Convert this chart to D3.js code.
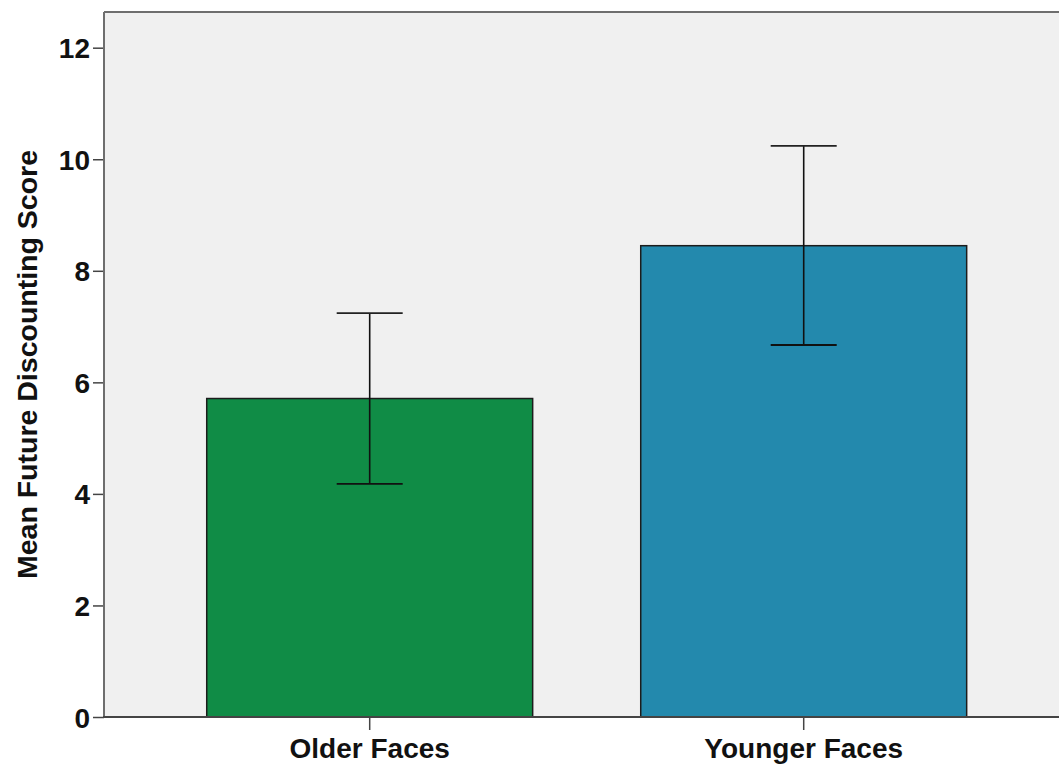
<!DOCTYPE html>
<html>
<head>
<meta charset="utf-8">
<script src="https://cdn.jsdelivr.net/npm/d3@7"></script>
<style>
  html, body { margin: 0; padding: 0; background: #ffffff; }
  svg { display: block; }
  text { font-family: "Liberation Sans", Arial, sans-serif; }
</style>
</head>
<body>
<svg id="chart" width="1059" height="764"></svg>
<script>
const categories = ["Older Faces", "Younger Faces"];
const means = [5.71, 8.45];
const errLow = [4.18, 6.67];
const errHigh = [7.24, 10.24];
const barColors = ["#108c46", "#2389ad"];
const yTicks = [0, 2, 4, 6, 8, 10, 12];
const yTitle = "Mean Future Discounting Score";

const svg = d3.select("#chart");
const pLeft = 104, pRight = 1069.4, pTop = 12, pBottom = 717;

const x = d3.scaleBand()
  .domain(categories)
  .range([pLeft, pRight])
  .paddingInner(0.249)
  .paddingOuter(0.2367);

const y = d3.scaleLinear()
  .domain([0, 12.64])
  .range([pBottom, pTop]);

// plot background
svg.append("rect")
  .attr("x", pLeft).attr("y", pTop)
  .attr("width", pRight - pLeft).attr("height", pBottom - pTop)
  .attr("fill", "#f0f0f0");

// frame top
svg.append("line")
  .attr("x1", pLeft).attr("x2", pRight).attr("y1", pTop).attr("y2", pTop)
  .attr("stroke", "#6e6e6e").attr("stroke-width", 2);

// bars
svg.selectAll("rect.bar")
  .data(categories)
  .enter().append("rect")
  .attr("class", "bar")
  .attr("x", d => x(d))
  .attr("y", (d, i) => y(means[i]))
  .attr("width", x.bandwidth())
  .attr("height", (d, i) => y(0) - y(means[i]))
  .attr("fill", (d, i) => barColors[i])
  .attr("stroke", "#1c1c1c")
  .attr("stroke-width", 1.5);

// error bars
const capW = 66;
const eb = svg.selectAll("g.err").data(categories).enter().append("g").attr("class", "err");
eb.append("line")
  .attr("x1", d => x(d) + x.bandwidth() / 2)
  .attr("x2", d => x(d) + x.bandwidth() / 2)
  .attr("y1", (d, i) => y(errLow[i]))
  .attr("y2", (d, i) => y(errHigh[i]))
  .attr("stroke", "#111").attr("stroke-width", 1.6);
eb.append("line")
  .attr("x1", d => x(d) + x.bandwidth() / 2 - capW / 2)
  .attr("x2", d => x(d) + x.bandwidth() / 2 + capW / 2)
  .attr("y1", (d, i) => y(errHigh[i]))
  .attr("y2", (d, i) => y(errHigh[i]))
  .attr("stroke", "#222").attr("stroke-width", 1.8);
eb.append("line")
  .attr("x1", d => x(d) + x.bandwidth() / 2 - capW / 2)
  .attr("x2", d => x(d) + x.bandwidth() / 2 + capW / 2)
  .attr("y1", (d, i) => y(errLow[i]))
  .attr("y2", (d, i) => y(errLow[i]))
  .attr("stroke", "#111").attr("stroke-width", 1.8);

// y axis
const yAxis = d3.axisLeft(y).tickValues(yTicks).tickSize(11).tickPadding(3).tickFormat(d3.format("d"));
const gy = svg.append("g").attr("transform", `translate(${pLeft},0)`).call(yAxis);
gy.select(".domain").remove();
gy.append("line").attr("x1", 0).attr("x2", 0).attr("y1", pTop).attr("y2", pBottom)
  .attr("stroke", "#6e6e6e").attr("stroke-width", 2);
gy.selectAll(".tick line").attr("stroke", "#444").attr("stroke-width", 1.5);
gy.selectAll(".tick text")
  .attr("fill", "#111")
  .style("font-family", "'Liberation Sans', Arial, sans-serif")
  .style("font-size", "28px")
  .style("font-weight", "bold")
  .attr("dy", "0.36em");

// x axis
const xAxis = d3.axisBottom(x).tickSize(13).tickPadding(8);
const gx = svg.append("g").attr("transform", `translate(0,${pBottom})`).call(xAxis);
gx.select(".domain").remove();
gx.append("line").attr("x1", pLeft - 1).attr("x2", pRight).attr("y1", 0).attr("y2", 0)
  .attr("stroke", "#444").attr("stroke-width", 2);
gx.selectAll(".tick line").attr("stroke", "#444").attr("stroke-width", 1.5);
gx.selectAll(".tick text")
  .attr("fill", "#111")
  .style("font-family", "'Liberation Sans', Arial, sans-serif")
  .style("font-size", "28px")
  .style("font-weight", "bold");

// y title
svg.append("text")
  .attr("transform", `translate(37,${(152 + 577) / 2}) rotate(-90)`)
  .attr("text-anchor", "middle")
  .attr("fill", "#111")
  .style("font-size", "28.5px")
  .style("font-weight", "bold")
  .text(yTitle);
</script>
</body>
</html>
